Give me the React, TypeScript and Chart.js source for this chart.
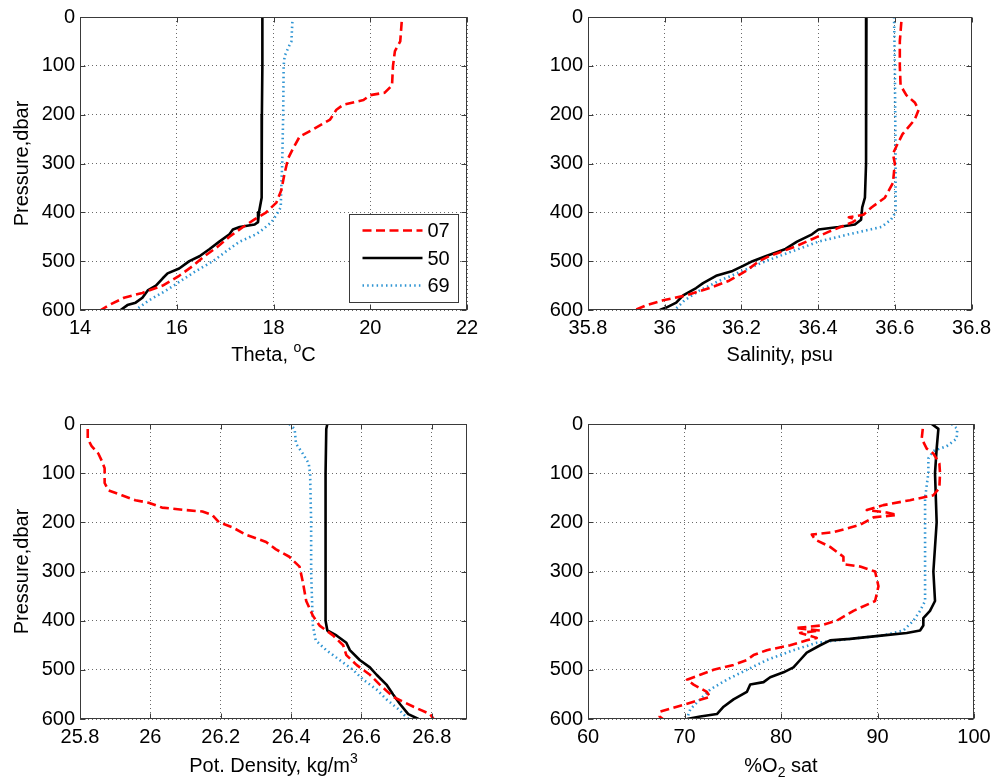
import React, { useEffect, useRef } from "react";
import { Chart, registerables } from "chart.js";

Chart.register(...registerables);

// ---------------- data ----------------
const seriesLabels = ["07", "50", "69"];
const pressureTicks = [0, 100, 200, 300, 400, 500, 600];

const thetaTicks = [14, 16, 18, 20, 22];
const salinityTicks = [35.8, 36, 36.2, 36.4, 36.6, 36.8];
const densityTicks = [25.8, 26, 26.2, 26.4, 26.6, 26.8];
const oxygenTicks = [60, 70, 80, 90, 100];

// Theta (°C)
const thetaP07 = [10, 50, 70, 100, 140, 155, 160, 170, 180, 190, 210, 230, 245, 270, 290, 320, 355, 380, 400, 415, 430, 450, 470, 490, 510, 530, 550, 565, 575, 590, 600];
const theta07 = [20.65, 20.62, 20.51, 20.47, 20.45, 20.3, 20.0, 19.86, 19.44, 19.3, 19.17, 18.82, 18.54, 18.4, 18.3, 18.23, 18.16, 18.06, 17.85, 17.6, 17.37, 17.09, 16.85, 16.57, 16.33, 16.05, 15.71, 15.29, 14.91, 14.6, 14.43];
const thetaP50 = [0, 100, 200, 300, 370, 400, 420, 425, 430, 435, 445, 460, 475, 490, 500, 515, 525, 535, 550, 560, 575, 585, 590, 600];
const theta50 = [17.77, 17.77, 17.76, 17.76, 17.75, 17.7, 17.68, 17.61, 17.3, 17.16, 17.09, 16.88, 16.68, 16.47, 16.26, 16.05, 15.81, 15.71, 15.57, 15.4, 15.29, 15.15, 14.98, 14.84];
const thetaP69 = [10, 50, 60, 80, 100, 200, 300, 350, 390, 405, 420, 435, 445, 460, 480, 500, 520, 540, 560, 580, 600];
const theta69 = [18.39, 18.37, 18.32, 18.23, 18.21, 18.2, 18.18, 18.16, 18.15, 18.06, 17.96, 17.78, 17.64, 17.3, 17.02, 16.75, 16.4, 16.09, 15.78, 15.43, 15.15];

// Salinity (psu)
const salP07 = [10, 50, 100, 140, 160, 175, 190, 210, 240, 260, 280, 300, 340, 370, 390, 405, 410, 415, 420, 440, 455, 470, 490, 500, 520, 540, 555, 570, 580, 590, 600];
const sal07 = [36.617, 36.613, 36.613, 36.615, 36.63, 36.652, 36.662, 36.652, 36.62, 36.607, 36.595, 36.6, 36.595, 36.574, 36.539, 36.518, 36.48, 36.5, 36.49, 36.427, 36.384, 36.341, 36.272, 36.246, 36.212, 36.168, 36.117, 36.056, 35.996, 35.953, 35.923];
const salP50 = [0, 200, 300, 370, 390, 415, 425, 430, 435, 445, 460, 475, 490, 500, 510, 520, 530, 545, 555, 570, 585, 595, 600];
const sal50 = [36.526, 36.525, 36.525, 36.522, 36.515, 36.512, 36.496, 36.453, 36.401, 36.384, 36.345, 36.315, 36.263, 36.229, 36.203, 36.177, 36.134, 36.1, 36.082, 36.048, 36.03, 36.004, 35.987];
const salP69 = [0, 100, 300, 400, 415, 430, 445, 460, 480, 500, 520, 540, 560, 580, 600];
const sal69 = [36.598, 36.6, 36.602, 36.602, 36.59, 36.565, 36.48, 36.401, 36.332, 36.263, 36.203, 36.143, 36.091, 36.052, 36.026];

// Potential density (kg/m3)
const denP07 = [10, 30, 45, 60, 75, 90, 120, 135, 145, 155, 160, 170, 175, 178, 185, 200, 210, 225, 240, 255, 270, 290, 320, 360, 390, 410, 430, 450, 470, 490, 510, 530, 555, 575, 590, 600];
const den07 = [25.822, 25.822, 25.833, 25.852, 25.862, 25.87, 25.87, 25.881, 25.919, 25.957, 25.995, 26.033, 26.1, 26.148, 26.176, 26.195, 26.233, 26.271, 26.329, 26.357, 26.395, 26.424, 26.433, 26.443, 26.462, 26.481, 26.519, 26.548, 26.557, 26.586, 26.624, 26.652, 26.69, 26.748, 26.795, 26.805];
const denP50 = [0, 10, 100, 400, 420, 430, 445, 460, 480, 495, 510, 530, 550, 570, 590, 600];
const den50 = [26.503, 26.5, 26.498, 26.498, 26.503, 26.529, 26.557, 26.567, 26.595, 26.624, 26.643, 26.671, 26.69, 26.71, 26.733, 26.762];
const denP69 = [0, 10, 40, 60, 80, 100, 200, 300, 370, 410, 440, 460, 480, 500, 520, 540, 560, 580, 600];
const den69 = [26.395, 26.41, 26.414, 26.433, 26.45, 26.454, 26.457, 26.457, 26.46, 26.462, 26.47, 26.5, 26.538, 26.576, 26.605, 26.643, 26.671, 26.705, 26.733];

// Oxygen saturation (%)
const oxyP07 = [10, 30, 50, 60, 80, 100, 130, 145, 155, 165, 175, 180, 185, 190, 205, 220, 225, 235, 250, 270, 285, 290, 300, 330, 360, 380, 400, 410, 415, 420, 425, 435, 440, 450, 460, 470, 480, 490, 500, 510, 520, 530, 545, 555, 565, 575, 585, 595, 600];
const oxy07 = [94.69, 94.58, 95.1, 95.79, 96.41, 96.48, 96.41, 95.79, 93.37, 90.61, 88.89, 90.96, 92.0, 89.58, 88.2, 85.44, 83.19, 83.54, 85.09, 86.47, 86.47, 88.2, 89.75, 90.1, 89.75, 87.51, 85.78, 84.06, 81.47, 84.06, 81.98, 83.71, 82.67, 80.95, 78.53, 77.15, 76.46, 75.08, 73.01, 71.63, 70.25, 70.94, 72.32, 72.67, 70.94, 69.21, 67.49, 67.42, 67.76];
const oxyP50 = [0, 10, 50, 100, 200, 300, 360, 380, 395, 410, 420, 425, 430, 437, 440, 450, 465, 480, 495, 505, 515, 525, 530, 545, 560, 575, 590, 595, 600];
const oxy50 = [95.62, 96.31, 96.13, 95.96, 96.13, 95.79, 95.96, 95.44, 94.75, 94.75, 94.41, 93.03, 90.61, 87.16, 85.09, 84.06, 82.67, 81.98, 81.29, 80.26, 78.88, 78.19, 76.81, 76.46, 75.08, 74.05, 73.36, 71.63, 70.25];
const oxyP69 = [0, 10, 30, 45, 55, 70, 100, 150, 200, 300, 360, 380, 400, 420, 430, 437, 445, 460, 480, 500, 520, 540, 560, 580, 600];
const oxy69 = [97.69, 98.27, 98.2, 97.17, 95.79, 95.27, 95.27, 94.93, 94.93, 94.93, 94.93, 94.41, 93.72, 92.68, 90.61, 87.16, 83.71, 81.29, 78.53, 76.46, 74.39, 72.67, 71.63, 70.6, 70.25];

// ---------------- styles ----------------
const FONT = "'Liberation Sans', Arial, Helvetica, sans-serif";
const styles = [
  { color: "#ff0000", width: 2.6, dash: [9, 4.5] },
  { color: "#000000", width: 2.6, dash: [] as number[] },
  { color: "#2f95d3", width: 2.6, dash: [1.5, 3.2] },
];
const FRAME = "#3a3a3a";
const GRID = "#6a6a6a";

// title pieces: [text, kind] where kind: "n" normal, "sub" subscript, "sup" superscript
type TitlePart = [string, "n" | "sub" | "sup"];

type PanelCfg = {
  left: number; top: number; w: number; h: number;
  padTop: number; padRight: number; yWidth: number; xHeight: number;
  xMin: number; xMax: number; xTicks: number[];
  xTitle: TitlePart[]; yTitle?: string; legend?: boolean;
  series: [number[], number[]][];
};

const panels: PanelCfg[] = [
  {
    left: 0, top: 0, w: 495, h: 367, padTop: 15, padRight: 28, yWidth: 80, xHeight: 57,
    xMin: 14, xMax: 22, xTicks: thetaTicks, xTitle: [["Theta, ", "n"], ["o", "sup"], ["C", "n"]], yTitle: "Pressure,dbar", legend: true,
    series: [[thetaP07, theta07], [thetaP50, theta50], [thetaP69, theta69]],
  },
  {
    left: 500, top: 0, w: 497, h: 367, padTop: 15, padRight: 23, yWidth: 88, xHeight: 57,
    xMin: 35.8, xMax: 36.8, xTicks: salinityTicks, xTitle: [["Salinity, psu", "n"]],
    series: [[salP07, sal07], [salP50, sal50], [salP69, sal69]],
  },
  {
    left: 0, top: 390, w: 495, h: 388, padTop: 34, padRight: 28, yWidth: 80, xHeight: 59,
    xMin: 25.8, xMax: 26.9, xTicks: densityTicks, xTitle: [["Pot. Density, kg/m", "n"], ["3", "sup"]], yTitle: "Pressure,dbar",
    series: [[denP07, den07], [denP50, den50], [denP69, den69]],
  },
  {
    left: 500, top: 390, w: 497, h: 388, padTop: 34, padRight: 23, yWidth: 88, xHeight: 59,
    xMin: 60, xMax: 100, xTicks: oxygenTicks, xTitle: [["%O", "n"], ["2", "sub"], [" sat", "n"]],
    series: [[oxyP07, oxy07], [oxyP50, oxy50], [oxyP69, oxy69]],
  },
];

const fmt = (v: number) => String(Number(Number(v).toFixed(3)));

const framePlugin = {
  id: "matFrame",
  afterDraw(chart: any, _args: any, opts: any) {
    const { ctx, chartArea: a } = chart;
    const xs = chart.scales.x;
    const ys = chart.scales.y;
    const L = Math.round(a.left) + 0.5, R = Math.round(a.right) - 0.5;
    const T = Math.round(a.top) + 0.5, B = Math.round(a.bottom) - 0.5;
    ctx.save();
    ctx.strokeStyle = FRAME;
    ctx.lineWidth = 1;
    ctx.setLineDash([]);
    ctx.strokeRect(L, T, R - L, B - T);
    const tl = 5;
    ctx.beginPath();
    xs.ticks.forEach((t: any) => {
      const x = Math.round(xs.getPixelForValue(t.value)) + 0.5;
      ctx.moveTo(x, B); ctx.lineTo(x, B - tl);
      ctx.moveTo(x, T); ctx.lineTo(x, T + tl);
    });
    ys.ticks.forEach((t: any) => {
      const y = Math.round(ys.getPixelForValue(t.value)) + 0.5;
      ctx.moveTo(L, y); ctx.lineTo(L + tl, y);
      ctx.moveTo(R, y); ctx.lineTo(R - tl, y);
    });
    ctx.stroke();

    // x-axis title with sub/superscripts
    const parts: TitlePart[] = (opts && opts.xTitle) || [];
    if (parts.length) {
      const fontFor = (k: string) => (k === "n" ? `20px ${FONT}` : `14px ${FONT}`);
      let total = 0;
      parts.forEach(([t, k]) => { ctx.font = fontFor(k); total += ctx.measureText(t).width; });
      let x = (a.left + a.right) / 2 - total / 2;
      const yMid = chart.height - 12;
      ctx.fillStyle = "#000";
      ctx.textAlign = "left";
      ctx.textBaseline = "middle";
      parts.forEach(([t, k]) => {
        ctx.font = fontFor(k);
        const dy = k === "sub" ? 7 : k === "sup" ? -7 : 0;
        ctx.fillText(t, x, yMid + dy);
        x += ctx.measureText(t).width;
      });
    }

    if (opts && opts.legend) {
      const bw = 109, bh = 88;
      const bx = Math.round(a.right - 9 - bw) + 0.5;
      const by = Math.round(a.bottom - 8 - bh) + 0.5;
      ctx.fillStyle = "#ffffff";
      ctx.fillRect(bx, by, bw, bh);
      ctx.strokeStyle = FRAME;
      ctx.lineWidth = 1;
      ctx.strokeRect(bx, by, bw, bh);
      chart.data.datasets.forEach((ds: any, i: number) => {
        const ly = by + 16 + i * 27.5;
        ctx.save();
        ctx.strokeStyle = ds.borderColor;
        ctx.lineWidth = ds.borderWidth;
        ctx.setLineDash(ds.borderDash || []);
        ctx.beginPath();
        ctx.moveTo(bx + 13, ly);
        ctx.lineTo(bx + 73, ly);
        ctx.stroke();
        ctx.restore();
        ctx.fillStyle = "#000";
        ctx.font = `20px ${FONT}`;
        ctx.textAlign = "left";
        ctx.textBaseline = "middle";
        ctx.fillText(ds.label, bx + 78, ly + 1);
      });
    }
    ctx.restore();
  },
};

function Panel({ cfg }: { cfg: PanelCfg }) {
  const ref = useRef<HTMLCanvasElement>(null);
  useEffect(() => {
    const canvas = ref.current!;
    const chart = new Chart(canvas, {
      type: "scatter",
      data: {
        datasets: cfg.series.map(([p, v], i) => ({
          label: seriesLabels[i],
          data: p.map((pp, k) => ({ x: v[k], y: pp })),
          showLine: true,
          pointRadius: 0,
          pointHoverRadius: 0,
          borderColor: styles[i].color,
          backgroundColor: styles[i].color,
          borderWidth: styles[i].width,
          borderDash: styles[i].dash,
          borderCapStyle: "butt",
          borderJoinStyle: "round",
          tension: 0,
          fill: false,
        })),
      },
      options: {
        animation: false,
        responsive: false,
        devicePixelRatio: 1,
        events: [],
        layout: { padding: { left: 0, top: cfg.padTop, right: cfg.padRight, bottom: 0 } },
        plugins: {
          legend: { display: false },
          tooltip: { enabled: false },
          title: { display: false },
          matFrame: { legend: !!cfg.legend, xTitle: cfg.xTitle },
        } as any,
        scales: {
          x: {
            type: "linear",
            position: "bottom",
            min: cfg.xMin,
            max: cfg.xMax,
            afterBuildTicks: (s: any) => { s.ticks = cfg.xTicks.map((v) => ({ value: v })); },
            afterFit: (s: any) => { s.height = cfg.xHeight; },
            grid: { display: true, color: GRID, lineWidth: 1, drawTicks: false },
            border: { display: false, dash: [1, 3] },
            ticks: {
              color: "#000",
              font: { family: FONT, size: 20 },
              padding: 6,
              maxRotation: 0,
              autoSkip: false,
              callback: (v: any) => fmt(v),
            },
            title: { display: false },
          },
          y: {
            type: "linear",
            position: "left",
            reverse: true,
            min: 0,
            max: 600,
            afterBuildTicks: (s: any) => { s.ticks = pressureTicks.map((v) => ({ value: v })); },
            afterFit: (s: any) => { s.width = cfg.yWidth; },
            grid: { display: true, color: GRID, lineWidth: 1, drawTicks: false },
            border: { display: false, dash: [1, 3] },
            ticks: {
              color: "#000",
              font: { family: FONT, size: 20 },
              padding: 5,
              autoSkip: false,
              callback: (v: any) => fmt(v),
            },
            title: {
              display: !!cfg.yTitle,
              text: cfg.yTitle || "",
              color: "#000",
              font: { family: FONT, size: 20 },
              padding: { top: 10, bottom: 0 },
            },
          },
        },
      } as any,
      plugins: [framePlugin as any],
    });
    return () => chart.destroy();
  }, []);
  return (
    <canvas
      ref={ref}
      width={cfg.w}
      height={cfg.h}
      style={{ position: "absolute", left: cfg.left, top: cfg.top, width: cfg.w, height: cfg.h }}
    />
  );
}

export default function App() {
  return (
    <div
      style={{
        position: "fixed",
        left: 0,
        top: 0,
        width: 997,
        height: 784,
        overflow: "hidden",
        background: "#ffffff",
      }}
    >
      {panels.map((p, i) => (
        <Panel key={i} cfg={p} />
      ))}
    </div>
  );
}
